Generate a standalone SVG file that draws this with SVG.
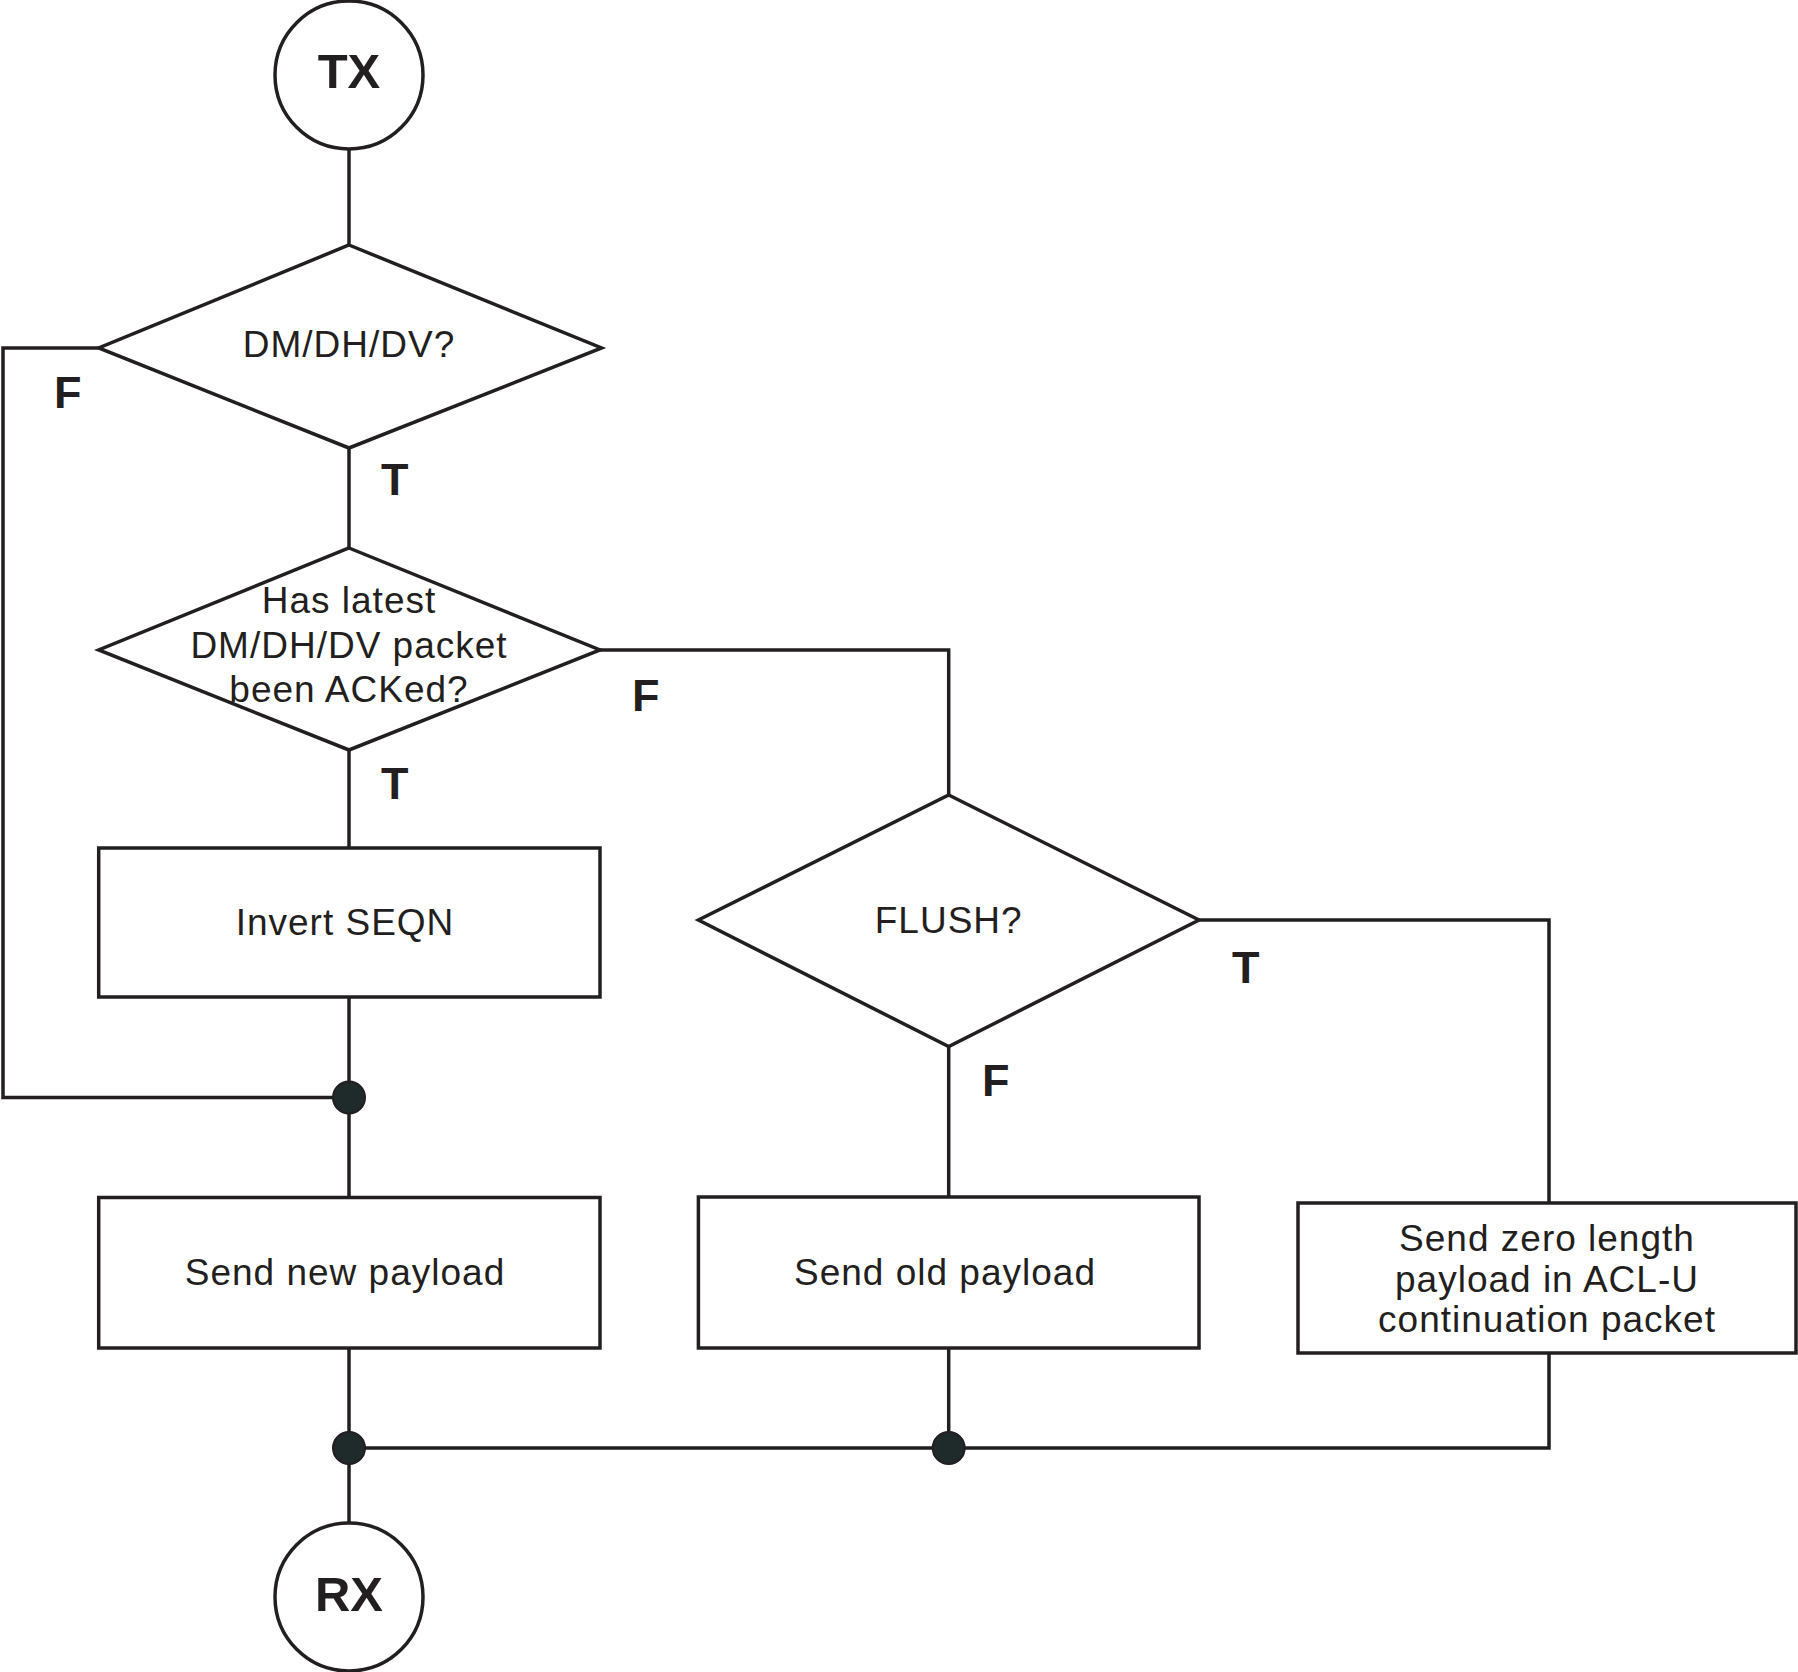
<svg xmlns="http://www.w3.org/2000/svg" width="1798" height="1672" viewBox="0 0 1798 1672">
<style>
.s{fill:#fff;stroke:#231f20;stroke-width:3.5}
.c{fill:none;stroke:#231f20;stroke-width:3.5}
.t{font-family:"Liberation Sans",Arial,sans-serif;font-size:37px;fill:#231f20;text-anchor:middle;letter-spacing:1px}
.b{font-family:"Liberation Sans",Arial,sans-serif;font-weight:bold;fill:#231f20}
.lbl{font-size:45px}
.term{font-size:49px;text-anchor:middle}
.dot{fill:#1f2b2a;stroke:#231f20;stroke-width:2}
</style>
<rect width="1798" height="1672" fill="#fff"/>
<g id="connectors">
<path class="c" d="M349 148V245"/>
<path class="c" d="M98.7 348H3V1097.5H349"/>
<path class="c" d="M349 448V548"/>
<path class="c" d="M600 650H948.7V795"/>
<path class="c" d="M349 750V848"/>
<path class="c" d="M349 997V1197.5"/>
<path class="c" d="M1199 920H1549V1203"/>
<path class="c" d="M948.7 1046.6V1197"/>
<path class="c" d="M349 1348V1524"/>
<path class="c" d="M948.7 1348V1448"/>
<path class="c" d="M1549 1353V1448H349"/>
<circle class="dot" cx="349" cy="1097.5" r="16"/>
<circle class="dot" cx="349" cy="1448" r="16"/>
<circle class="dot" cx="948.7" cy="1448" r="16"/>
<text class="b lbl" x="54" y="408">F</text>
<text class="b lbl" x="381" y="495">T</text>
<text class="b lbl" x="632" y="711">F</text>
<text class="b lbl" x="381" y="799">T</text>
<text class="b lbl" x="1232" y="983">T</text>
<text class="b lbl" x="982" y="1096">F</text>
</g>
<g id="tx">
<circle class="s" cx="349" cy="75" r="74"/>
<text class="b term" x="349" y="88">TX</text>
</g>
<g id="d1">
<polygon class="s" points="349,245 601.6,348 349,448 98.7,348"/>
<text class="t" x="349" y="357">DM/DH/DV?</text>
</g>
<g id="d2">
<polygon class="s" points="349,548 600,650 349,750 98.7,650"/>
<text class="t" x="349" y="613">Has latest</text>
<text class="t" x="349" y="658">DM/DH/DV packet</text>
<text class="t" x="349" y="702">been ACKed?</text>
</g>
<g id="invert">
<rect class="s" x="98.7" y="848" width="501.3" height="149"/>
<text class="t" x="345" y="935">Invert SEQN</text>
</g>
<g id="flush">
<polygon class="s" points="948.7,795 1199,920 948.7,1046.6 698.4,920"/>
<text class="t" x="948.7" y="933">FLUSH?</text>
</g>
<g id="newpayload">
<rect class="s" x="98.7" y="1197.5" width="501.3" height="150.5"/>
<text class="t" x="345" y="1285">Send new payload</text>
</g>
<g id="oldpayload">
<rect class="s" x="698.4" y="1197" width="500.6" height="151"/>
<text class="t" x="945" y="1285">Send old payload</text>
</g>
<g id="zeropayload">
<rect class="s" x="1298" y="1203" width="498" height="150"/>
<text class="t" x="1547" y="1251">Send zero length</text>
<text class="t" x="1547" y="1292">payload in ACL-U</text>
<text class="t" x="1547" y="1332">continuation packet</text>
</g>
<g id="rx">
<circle class="s" cx="349" cy="1597" r="74"/>
<text class="b term" x="349" y="1611">RX</text>
</g>
</svg>
